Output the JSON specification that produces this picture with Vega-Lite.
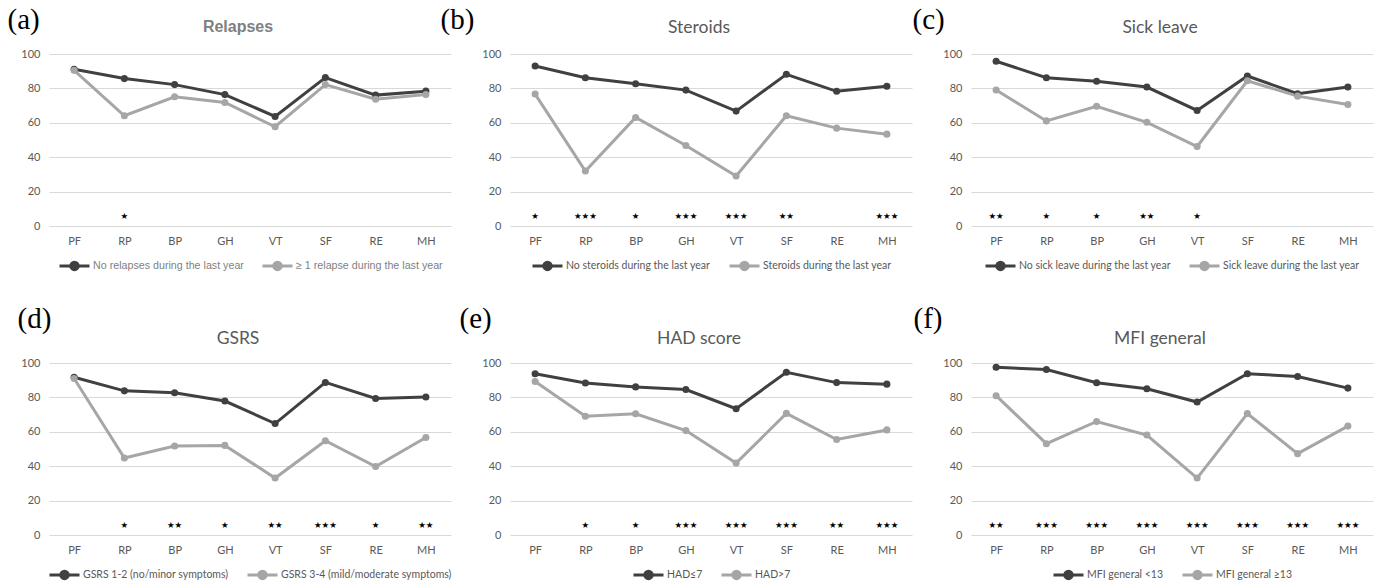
{
  "$schema": "https://vega.github.io/schema/vega-lite/v6.json",
  "padding": {"left": 7, "top": 5, "right": 2, "bottom": 2},
  "background": "white",
  "config": {
    "view": {"stroke": null},
    "font": "Lato",
    "axisX": {"domain": false, "ticks": false, "grid": false, "labelAngle": 0, "labelPadding": 9, "labelColor": "#595959", "labelFontSize": 11, "labelFont": "Lato"},
    "axisY": {"domain": false, "ticks": false, "grid": true, "gridColor": "#d9d9d9", "gridWidth": 1, "labelColor": "#595959", "labelFontSize": 11, "labelFont": "Lato", "labelPadding": 9, "titleAngle": 0, "titleAlign": "left", "titleBaseline": "top", "titleFont": "Liberation Serif", "titleFontSize": 29, "titleFontWeight": "normal", "titleColor": "#000000"},
    "title": {"font": "Lato", "fontSize": 17.5, "fontWeight": "normal", "color": "#595959", "frame": "group", "anchor": "middle", "dx": -12},
    "legend": {"orient": "bottom", "direction": "horizontal", "title": null, "offset": 3, "labelFont": "Lato", "labelFontSize": 10.5, "labelColor": "#595959", "labelOffset": 2, "labelLimit": 400, "columnPadding": 12, "symbolSize": 900, "symbolStrokeWidth": 3, "symbolType": "M-1,0H1M-0.25,0A0.25,0.25,0,1,1,0.25,0A0.25,0.25,0,1,1,-0.25,0", "layout": {"bottom": {"anchor": "middle"}}}
  },
  "datasets": {
    "scores": [
      {"panel": "a", "group": "No relapses during the last year", "domain": "PF", "score": 91.1},
      {"panel": "a", "group": "No relapses during the last year", "domain": "RP", "score": 85.7},
      {"panel": "a", "group": "No relapses during the last year", "domain": "BP", "score": 82.2},
      {"panel": "a", "group": "No relapses during the last year", "domain": "GH", "score": 76.4},
      {"panel": "a", "group": "No relapses during the last year", "domain": "VT", "score": 63.7},
      {"panel": "a", "group": "No relapses during the last year", "domain": "SF", "score": 86.3},
      {"panel": "a", "group": "No relapses during the last year", "domain": "RE", "score": 76.1},
      {"panel": "a", "group": "No relapses during the last year", "domain": "MH", "score": 78.4},
      {"panel": "a", "group": "≥ 1 relapse during the last year", "domain": "PF", "score": 90.5},
      {"panel": "a", "group": "≥ 1 relapse during the last year", "domain": "RP", "score": 64.1},
      {"panel": "a", "group": "≥ 1 relapse during the last year", "domain": "BP", "score": 75.1},
      {"panel": "a", "group": "≥ 1 relapse during the last year", "domain": "GH", "score": 71.8},
      {"panel": "a", "group": "≥ 1 relapse during the last year", "domain": "VT", "score": 57.7},
      {"panel": "a", "group": "≥ 1 relapse during the last year", "domain": "SF", "score": 82.2},
      {"panel": "a", "group": "≥ 1 relapse during the last year", "domain": "RE", "score": 73.7},
      {"panel": "a", "group": "≥ 1 relapse during the last year", "domain": "MH", "score": 76.4},

      {"panel": "b", "group": "No steroids during the last year", "domain": "PF", "score": 93.0},
      {"panel": "b", "group": "No steroids during the last year", "domain": "RP", "score": 86.2},
      {"panel": "b", "group": "No steroids during the last year", "domain": "BP", "score": 82.7},
      {"panel": "b", "group": "No steroids during the last year", "domain": "GH", "score": 79.0},
      {"panel": "b", "group": "No steroids during the last year", "domain": "VT", "score": 66.8},
      {"panel": "b", "group": "No steroids during the last year", "domain": "SF", "score": 88.2},
      {"panel": "b", "group": "No steroids during the last year", "domain": "RE", "score": 78.3},
      {"panel": "b", "group": "No steroids during the last year", "domain": "MH", "score": 81.2},
      {"panel": "b", "group": "Steroids during the last year", "domain": "PF", "score": 76.7},
      {"panel": "b", "group": "Steroids during the last year", "domain": "RP", "score": 32.0},
      {"panel": "b", "group": "Steroids during the last year", "domain": "BP", "score": 63.1},
      {"panel": "b", "group": "Steroids during the last year", "domain": "GH", "score": 46.8},
      {"panel": "b", "group": "Steroids during the last year", "domain": "VT", "score": 29.1},
      {"panel": "b", "group": "Steroids during the last year", "domain": "SF", "score": 64.1},
      {"panel": "b", "group": "Steroids during the last year", "domain": "RE", "score": 56.9},
      {"panel": "b", "group": "Steroids during the last year", "domain": "MH", "score": 53.4},

      {"panel": "c", "group": "No sick leave during the last year", "domain": "PF", "score": 95.8},
      {"panel": "c", "group": "No sick leave during the last year", "domain": "RP", "score": 86.2},
      {"panel": "c", "group": "No sick leave during the last year", "domain": "BP", "score": 84.2},
      {"panel": "c", "group": "No sick leave during the last year", "domain": "GH", "score": 80.8},
      {"panel": "c", "group": "No sick leave during the last year", "domain": "VT", "score": 67.2},
      {"panel": "c", "group": "No sick leave during the last year", "domain": "SF", "score": 87.2},
      {"panel": "c", "group": "No sick leave during the last year", "domain": "RE", "score": 76.9},
      {"panel": "c", "group": "No sick leave during the last year", "domain": "MH", "score": 80.8},
      {"panel": "c", "group": "Sick leave during the last year", "domain": "PF", "score": 79.1},
      {"panel": "c", "group": "Sick leave during the last year", "domain": "RP", "score": 61.1},
      {"panel": "c", "group": "Sick leave during the last year", "domain": "BP", "score": 69.6},
      {"panel": "c", "group": "Sick leave during the last year", "domain": "GH", "score": 60.3},
      {"panel": "c", "group": "Sick leave during the last year", "domain": "VT", "score": 46.2},
      {"panel": "c", "group": "Sick leave during the last year", "domain": "SF", "score": 84.4},
      {"panel": "c", "group": "Sick leave during the last year", "domain": "RE", "score": 75.5},
      {"panel": "c", "group": "Sick leave during the last year", "domain": "MH", "score": 70.6},

      {"panel": "d", "group": "GSRS 1-2 (no/minor symptoms)", "domain": "PF", "score": 91.7},
      {"panel": "d", "group": "GSRS 1-2 (no/minor symptoms)", "domain": "RP", "score": 83.8},
      {"panel": "d", "group": "GSRS 1-2 (no/minor symptoms)", "domain": "BP", "score": 82.7},
      {"panel": "d", "group": "GSRS 1-2 (no/minor symptoms)", "domain": "GH", "score": 77.9},
      {"panel": "d", "group": "GSRS 1-2 (no/minor symptoms)", "domain": "VT", "score": 64.8},
      {"panel": "d", "group": "GSRS 1-2 (no/minor symptoms)", "domain": "SF", "score": 88.7},
      {"panel": "d", "group": "GSRS 1-2 (no/minor symptoms)", "domain": "RE", "score": 79.4},
      {"panel": "d", "group": "GSRS 1-2 (no/minor symptoms)", "domain": "MH", "score": 80.2},
      {"panel": "d", "group": "GSRS 3-4 (mild/moderate symptoms)", "domain": "PF", "score": 91.0},
      {"panel": "d", "group": "GSRS 3-4 (mild/moderate symptoms)", "domain": "RP", "score": 44.8},
      {"panel": "d", "group": "GSRS 3-4 (mild/moderate symptoms)", "domain": "BP", "score": 51.7},
      {"panel": "d", "group": "GSRS 3-4 (mild/moderate symptoms)", "domain": "GH", "score": 52.1},
      {"panel": "d", "group": "GSRS 3-4 (mild/moderate symptoms)", "domain": "VT", "score": 33.1},
      {"panel": "d", "group": "GSRS 3-4 (mild/moderate symptoms)", "domain": "SF", "score": 54.8},
      {"panel": "d", "group": "GSRS 3-4 (mild/moderate symptoms)", "domain": "RE", "score": 39.8},
      {"panel": "d", "group": "GSRS 3-4 (mild/moderate symptoms)", "domain": "MH", "score": 56.7},

      {"panel": "e", "group": "HAD≤7", "domain": "PF", "score": 93.8},
      {"panel": "e", "group": "HAD≤7", "domain": "RP", "score": 88.4},
      {"panel": "e", "group": "HAD≤7", "domain": "BP", "score": 86.1},
      {"panel": "e", "group": "HAD≤7", "domain": "GH", "score": 84.6},
      {"panel": "e", "group": "HAD≤7", "domain": "VT", "score": 73.4},
      {"panel": "e", "group": "HAD≤7", "domain": "SF", "score": 94.6},
      {"panel": "e", "group": "HAD≤7", "domain": "RE", "score": 88.6},
      {"panel": "e", "group": "HAD≤7", "domain": "MH", "score": 87.7},
      {"panel": "e", "group": "HAD>7", "domain": "PF", "score": 89.2},
      {"panel": "e", "group": "HAD>7", "domain": "RP", "score": 69.0},
      {"panel": "e", "group": "HAD>7", "domain": "BP", "score": 70.5},
      {"panel": "e", "group": "HAD>7", "domain": "GH", "score": 60.7},
      {"panel": "e", "group": "HAD>7", "domain": "VT", "score": 41.8},
      {"panel": "e", "group": "HAD>7", "domain": "SF", "score": 70.7},
      {"panel": "e", "group": "HAD>7", "domain": "RE", "score": 55.5},
      {"panel": "e", "group": "HAD>7", "domain": "MH", "score": 61.1},

      {"panel": "f", "group": "MFI general <13", "domain": "PF", "score": 97.5},
      {"panel": "f", "group": "MFI general <13", "domain": "RP", "score": 96.2},
      {"panel": "f", "group": "MFI general <13", "domain": "BP", "score": 88.5},
      {"panel": "f", "group": "MFI general <13", "domain": "GH", "score": 85.0},
      {"panel": "f", "group": "MFI general <13", "domain": "VT", "score": 77.3},
      {"panel": "f", "group": "MFI general <13", "domain": "SF", "score": 93.8},
      {"panel": "f", "group": "MFI general <13", "domain": "RE", "score": 92.1},
      {"panel": "f", "group": "MFI general <13", "domain": "MH", "score": 85.4},
      {"panel": "f", "group": "MFI general ≥13", "domain": "PF", "score": 81.0},
      {"panel": "f", "group": "MFI general ≥13", "domain": "RP", "score": 53.1},
      {"panel": "f", "group": "MFI general ≥13", "domain": "BP", "score": 66.0},
      {"panel": "f", "group": "MFI general ≥13", "domain": "GH", "score": 58.1},
      {"panel": "f", "group": "MFI general ≥13", "domain": "VT", "score": 33.1},
      {"panel": "f", "group": "MFI general ≥13", "domain": "SF", "score": 70.6},
      {"panel": "f", "group": "MFI general ≥13", "domain": "RE", "score": 47.3},
      {"panel": "f", "group": "MFI general ≥13", "domain": "MH", "score": 63.3}
    ],
    "stars": [
      {"panel": "a", "domain": "RP", "stars": "★"},
      {"panel": "b", "domain": "PF", "stars": "★"},
      {"panel": "b", "domain": "RP", "stars": "★★★"},
      {"panel": "b", "domain": "BP", "stars": "★"},
      {"panel": "b", "domain": "GH", "stars": "★★★"},
      {"panel": "b", "domain": "VT", "stars": "★★★"},
      {"panel": "b", "domain": "SF", "stars": "★★"},
      {"panel": "b", "domain": "MH", "stars": "★★★"},
      {"panel": "c", "domain": "PF", "stars": "★★"},
      {"panel": "c", "domain": "RP", "stars": "★"},
      {"panel": "c", "domain": "BP", "stars": "★"},
      {"panel": "c", "domain": "GH", "stars": "★★"},
      {"panel": "c", "domain": "VT", "stars": "★"},
      {"panel": "d", "domain": "RP", "stars": "★"},
      {"panel": "d", "domain": "BP", "stars": "★★"},
      {"panel": "d", "domain": "GH", "stars": "★"},
      {"panel": "d", "domain": "VT", "stars": "★★"},
      {"panel": "d", "domain": "SF", "stars": "★★★"},
      {"panel": "d", "domain": "RE", "stars": "★"},
      {"panel": "d", "domain": "MH", "stars": "★★"},
      {"panel": "e", "domain": "RP", "stars": "★"},
      {"panel": "e", "domain": "BP", "stars": "★"},
      {"panel": "e", "domain": "GH", "stars": "★★★"},
      {"panel": "e", "domain": "VT", "stars": "★★★"},
      {"panel": "e", "domain": "SF", "stars": "★★★"},
      {"panel": "e", "domain": "RE", "stars": "★★"},
      {"panel": "e", "domain": "MH", "stars": "★★★"},
      {"panel": "f", "domain": "PF", "stars": "★★"},
      {"panel": "f", "domain": "RP", "stars": "★★★"},
      {"panel": "f", "domain": "BP", "stars": "★★★"},
      {"panel": "f", "domain": "GH", "stars": "★★★"},
      {"panel": "f", "domain": "VT", "stars": "★★★"},
      {"panel": "f", "domain": "SF", "stars": "★★★"},
      {"panel": "f", "domain": "RE", "stars": "★★★"},
      {"panel": "f", "domain": "MH", "stars": "★★★"}
    ]
  },
  "columns": 3,
  "spacing": {"column": 59, "row": 137},
  "bounds": "flush",
  "resolve": {"scale": {"color": "independent", "x": "independent", "y": "independent"}, "legend": {"color": "independent"}},
  "concat": [
    {
      "width": 402, "height": 172,
      "title": {"text": "Relapses", "font": "Liberation Sans", "fontWeight": "bold", "color": "#808080", "fontSize": 16, "offset": -30},
      "encoding": {
        "x": {"field": "domain", "type": "nominal", "sort": ["PF", "RP", "BP", "GH", "VT", "SF", "RE", "MH"], "axis": {"title": null}}
      },
      "layer": [
        {
          "data": {"name": "scores"},
          "transform": [{"filter": "datum.panel === 'a'"}],
          "mark": {"type": "line", "strokeWidth": 3, "point": {"filled": true, "size": 50}},
          "encoding": {
            "y": {"field": "score", "type": "quantitative", "scale": {"domain": [0, 100]}, "axis": {"values": [0, 20, 40, 60, 80, 100], "title": "(a)", "titleX": -42, "titleY": -49}},
            "color": {"field": "group", "type": "nominal", "scale": {"domain": ["No relapses during the last year", "≥ 1 relapse during the last year"], "range": ["#404040", "#a6a6a6"]},
              "legend": {"labelFont": "Liberation Sans", "labelFontSize": 10.7, "labelColor": "#7f7f7f", "encode": {"symbols": {"update": {"fill": {"signal": "datum.index === 0 ? '#404040' : '#a6a6a6'"}}}}}}
          }
        },
        {
          "data": {"name": "stars"},
          "transform": [{"filter": "datum.panel === 'a'"}],
          "mark": {"type": "text", "font": "DejaVu Sans", "fontSize": 8.5, "color": "#000000", "baseline": "middle"},
          "encoding": {
            "y": {"datum": 6, "type": "quantitative", "scale": {"domain": [0, 100]}, "axis": {"values": [0, 20, 40, 60, 80, 100], "title": "(a)", "titleX": -42, "titleY": -49}},
            "text": {"field": "stars"}
          }
        }
      ]
    },
    {
      "width": 402, "height": 172,
      "title": {"text": "Steroids", "offset": -31},
      "encoding": {
        "x": {"field": "domain", "type": "nominal", "sort": ["PF", "RP", "BP", "GH", "VT", "SF", "RE", "MH"], "axis": {"title": null}}
      },
      "layer": [
        {
          "data": {"name": "scores"},
          "transform": [{"filter": "datum.panel === 'b'"}],
          "mark": {"type": "line", "strokeWidth": 3, "point": {"filled": true, "size": 50}},
          "encoding": {
            "y": {"field": "score", "type": "quantitative", "scale": {"domain": [0, 100]}, "axis": {"values": [0, 20, 40, 60, 80, 100], "title": "(b)", "titleX": -70, "titleY": -49}},
            "color": {"field": "group", "type": "nominal", "scale": {"domain": ["No steroids during the last year", "Steroids during the last year"], "range": ["#404040", "#a6a6a6"]},
              "legend": {"encode": {"symbols": {"update": {"fill": {"signal": "datum.index === 0 ? '#404040' : '#a6a6a6'"}}}}}}
          }
        },
        {
          "data": {"name": "stars"},
          "transform": [{"filter": "datum.panel === 'b'"}],
          "mark": {"type": "text", "font": "DejaVu Sans", "fontSize": 8.5, "color": "#000000", "baseline": "middle"},
          "encoding": {
            "y": {"datum": 6, "type": "quantitative", "scale": {"domain": [0, 100]}, "axis": {"values": [0, 20, 40, 60, 80, 100], "title": "(b)", "titleX": -70, "titleY": -49}},
            "text": {"field": "stars"}
          }
        }
      ]
    },
    {
      "width": 402, "height": 172,
      "title": {"text": "Sick leave", "offset": -31},
      "encoding": {
        "x": {"field": "domain", "type": "nominal", "sort": ["PF", "RP", "BP", "GH", "VT", "SF", "RE", "MH"], "axis": {"title": null}}
      },
      "layer": [
        {
          "data": {"name": "scores"},
          "transform": [{"filter": "datum.panel === 'c'"}],
          "mark": {"type": "line", "strokeWidth": 3, "point": {"filled": true, "size": 50}},
          "encoding": {
            "y": {"field": "score", "type": "quantitative", "scale": {"domain": [0, 100]}, "axis": {"values": [0, 20, 40, 60, 80, 100], "title": "(c)", "titleX": -59, "titleY": -49}},
            "color": {"field": "group", "type": "nominal", "scale": {"domain": ["No sick leave during the last year", "Sick leave during the last year"], "range": ["#404040", "#a6a6a6"]},
              "legend": {"encode": {"symbols": {"update": {"fill": {"signal": "datum.index === 0 ? '#404040' : '#a6a6a6'"}}}}}}
          }
        },
        {
          "data": {"name": "stars"},
          "transform": [{"filter": "datum.panel === 'c'"}],
          "mark": {"type": "text", "font": "DejaVu Sans", "fontSize": 8.5, "color": "#000000", "baseline": "middle"},
          "encoding": {
            "y": {"datum": 6, "type": "quantitative", "scale": {"domain": [0, 100]}, "axis": {"values": [0, 20, 40, 60, 80, 100], "title": "(c)", "titleX": -59, "titleY": -49}},
            "text": {"field": "stars"}
          }
        }
      ]
    },
    {
      "width": 402, "height": 172,
      "title": {"text": "GSRS", "offset": -43},
      "encoding": {
        "x": {"field": "domain", "type": "nominal", "sort": ["PF", "RP", "BP", "GH", "VT", "SF", "RE", "MH"], "axis": {"title": null}}
      },
      "layer": [
        {
          "data": {"name": "scores"},
          "transform": [{"filter": "datum.panel === 'd'"}],
          "mark": {"type": "line", "strokeWidth": 3, "point": {"filled": true, "size": 50}},
          "encoding": {
            "y": {"field": "score", "type": "quantitative", "scale": {"domain": [0, 100]}, "axis": {"values": [0, 20, 40, 60, 80, 100], "title": "(d)", "titleX": -32, "titleY": -59}},
            "color": {"field": "group", "type": "nominal", "scale": {"domain": ["GSRS 1-2 (no/minor symptoms)", "GSRS 3-4 (mild/moderate symptoms)"], "range": ["#404040", "#a6a6a6"]},
              "legend": {"encode": {"symbols": {"update": {"fill": {"signal": "datum.index === 0 ? '#404040' : '#a6a6a6'"}}}}}}
          }
        },
        {
          "data": {"name": "stars"},
          "transform": [{"filter": "datum.panel === 'd'"}],
          "mark": {"type": "text", "font": "DejaVu Sans", "fontSize": 8.5, "color": "#000000", "baseline": "middle"},
          "encoding": {
            "y": {"datum": 6, "type": "quantitative", "scale": {"domain": [0, 100]}, "axis": {"values": [0, 20, 40, 60, 80, 100], "title": "(d)", "titleX": -32, "titleY": -59}},
            "text": {"field": "stars"}
          }
        }
      ]
    },
    {
      "width": 402, "height": 172,
      "title": {"text": "HAD score", "offset": -43},
      "encoding": {
        "x": {"field": "domain", "type": "nominal", "sort": ["PF", "RP", "BP", "GH", "VT", "SF", "RE", "MH"], "axis": {"title": null}}
      },
      "layer": [
        {
          "data": {"name": "scores"},
          "transform": [{"filter": "datum.panel === 'e'"}],
          "mark": {"type": "line", "strokeWidth": 3, "point": {"filled": true, "size": 50}},
          "encoding": {
            "y": {"field": "score", "type": "quantitative", "scale": {"domain": [0, 100]}, "axis": {"values": [0, 20, 40, 60, 80, 100], "title": "(e)", "titleX": -51, "titleY": -59}},
            "color": {"field": "group", "type": "nominal", "scale": {"domain": ["HAD≤7", "HAD>7"], "range": ["#404040", "#a6a6a6"]},
              "legend": {"encode": {"symbols": {"update": {"fill": {"signal": "datum.index === 0 ? '#404040' : '#a6a6a6'"}}}}}}
          }
        },
        {
          "data": {"name": "stars"},
          "transform": [{"filter": "datum.panel === 'e'"}],
          "mark": {"type": "text", "font": "DejaVu Sans", "fontSize": 8.5, "color": "#000000", "baseline": "middle"},
          "encoding": {
            "y": {"datum": 6, "type": "quantitative", "scale": {"domain": [0, 100]}, "axis": {"values": [0, 20, 40, 60, 80, 100], "title": "(e)", "titleX": -51, "titleY": -59}},
            "text": {"field": "stars"}
          }
        }
      ]
    },
    {
      "width": 402, "height": 172,
      "title": {"text": "MFI general", "offset": -43},
      "encoding": {
        "x": {"field": "domain", "type": "nominal", "sort": ["PF", "RP", "BP", "GH", "VT", "SF", "RE", "MH"], "axis": {"title": null}}
      },
      "layer": [
        {
          "data": {"name": "scores"},
          "transform": [{"filter": "datum.panel === 'f'"}],
          "mark": {"type": "line", "strokeWidth": 3, "point": {"filled": true, "size": 50}},
          "encoding": {
            "y": {"field": "score", "type": "quantitative", "scale": {"domain": [0, 100]}, "axis": {"values": [0, 20, 40, 60, 80, 100], "title": "(f)", "titleX": -58, "titleY": -59}},
            "color": {"field": "group", "type": "nominal", "scale": {"domain": ["MFI general <13", "MFI general ≥13"], "range": ["#404040", "#a6a6a6"]},
              "legend": {"encode": {"symbols": {"update": {"fill": {"signal": "datum.index === 0 ? '#404040' : '#a6a6a6'"}}}}}}
          }
        },
        {
          "data": {"name": "stars"},
          "transform": [{"filter": "datum.panel === 'f'"}],
          "mark": {"type": "text", "font": "DejaVu Sans", "fontSize": 8.5, "color": "#000000", "baseline": "middle"},
          "encoding": {
            "y": {"datum": 6, "type": "quantitative", "scale": {"domain": [0, 100]}, "axis": {"values": [0, 20, 40, 60, 80, 100], "title": "(f)", "titleX": -58, "titleY": -59}},
            "text": {"field": "stars"}
          }
        }
      ]
    }
  ]
}
